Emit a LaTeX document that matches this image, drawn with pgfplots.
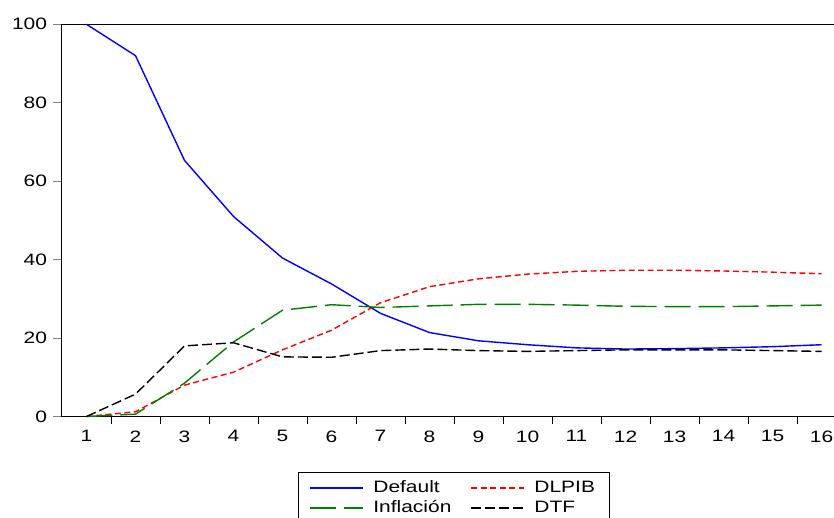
\documentclass[border=0pt]{standalone}
\usepackage{fontspec}
\setmainfont{Liberation Sans}[FakeStretch=1.27]
\usepackage{pgfplots}
\usepackage{pgfplotstable}
\pgfplotsset{compat=1.18}
\pgfplotstableread{
x  Default DLPIB Infl DTF
1  100.0  0.0  0.0  0.0
2  92.0   1.2  0.6  5.7
3  65.3   8.0  8.5  18.0
4  51.0   11.3 19.0 18.8
5  40.4   17.0 27.1 15.2
6  33.8   22.0 28.5 15.1
7  26.3   29.0 27.8 16.8
8  21.4   33.1 28.2 17.2
9  19.3   35.1 28.6 16.8
10 18.3   36.3 28.6 16.6
11 17.5   37.0 28.4 16.8
12 17.2   37.3 28.1 17.0
13 17.3   37.3 28.0 17.0
14 17.5   37.1 28.0 17.0
15 17.8   36.8 28.2 16.8
16 18.3   36.4 28.4 16.6
}\datatable
\definecolor{cblue}{RGB}{0,0,255}
\definecolor{cred}{RGB}{255,0,0}
\definecolor{cgreen}{RGB}{0,128,0}
\begin{document}
\begin{tikzpicture}[font=\fontsize{16.5}{20}\selectfont]
\begin{axis}[
  scale only axis,
  width=784pt, height=392.2pt,
  xmin=0.5, xmax=16.5, ymin=0, ymax=100,
  clip=false,
  axis line style={black, line width=1pt},
  tick align=outside,
  major tick length=9pt,
  minor tick length=8pt,
  xtick={1,...,16},
  xticklabels={1,2,3,4,5,6,7,8,9,10,11,12,13,14,15,16},
  major x tick style={draw=none},
  minor xtick={1.5,2.5,...,15.5},
  minor x tick style={black, line width=0.9pt},
  xtick pos=bottom,
  ytick={0,20,40,60,80,100},
  yticklabels={0,20,40,60,80,100},
  y tick style={gray, line width=0.9pt},
  ytick pos=left,
  tick label style={font=\fontsize{16.5}{20}\selectfont},
  yticklabel style={xshift=-2.5pt},
  xticklabel style={yshift=-1.5pt},
  legend columns=2,
  legend cell align=left,
  legend style={at={(0.301,-0.1415)}, anchor=north west,
    draw=black, line width=0.8pt,
    inner xsep=0pt, inner ysep=5.5pt,
    row sep=0pt,
    font=\fontsize{16.5}{20}\selectfont,
    nodes={inner xsep=0pt, inner ysep=2.5pt, text height=12pt, text depth=3pt},
    /tikz/every even column/.append style={column sep=8pt},
    /tikz/column 4/.style={nodes={text width=75pt, align=left}}},
  legend image code/.code={%
    \path[draw=none] (-12pt,0pt) -- (63pt,0pt);
    \draw[#1] (0pt,0pt) -- (53pt,0pt);},
]
\coordinate (A) at (rel axis cs:0,0);
\coordinate (B) at (rel axis cs:0,1);
\addplot[color=cblue, draw=cblue, line width=1.4pt] table[x=x, y=Default] {\datatable};
\addlegendentry{Default}
\addplot[color=cred, draw=cred, line width=1.4pt, dash pattern=on 6pt off 3.5pt] table[x=x, y=DLPIB] {\datatable};
\addlegendentry{DLPIB}
\addplot[color=cgreen, draw=cgreen, line width=1.4pt, dash pattern=on 26pt off 8pt] table[x=x, y=Infl] {\datatable};
\addlegendentry{Inflación}
\addplot[color=black, draw=black, line width=1.4pt, dash pattern=on 10pt off 4pt] table[x=x, y=DTF] {\datatable};
\addlegendentry{DTF}
\end{axis}
\pgfresetboundingbox
\path ([shift={(-62pt,24.3pt)}]B) rectangle ([shift={(772pt,-101.5pt)}]A);
\end{tikzpicture}
\end{document}
